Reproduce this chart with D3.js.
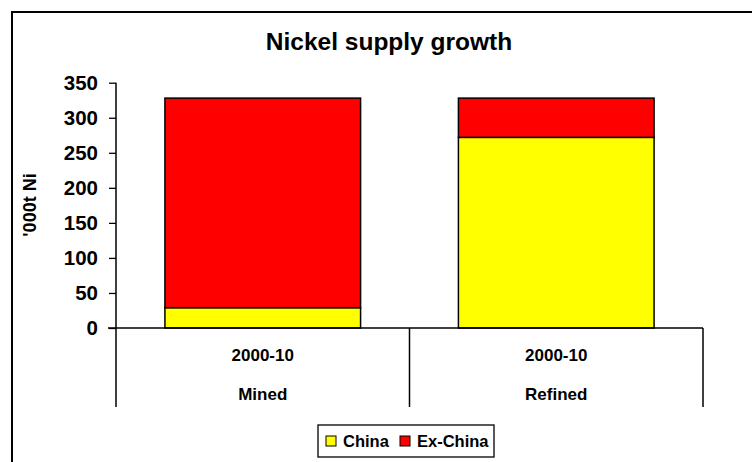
<!DOCTYPE html>
<html>
<head>
<meta charset="utf-8">
<script src="https://cdn.jsdelivr.net/npm/d3@7"></script>
<style>
  html, body { margin: 0; padding: 0; background: #fff; }
  svg { display: block; font-family: "Liberation Sans", Arial, sans-serif; font-weight: bold; }
</style>
</head>
<body>
<svg id="chart" width="752" height="462"></svg>
<script>
// Nickel supply growth 2000-10, '000 tonnes Ni
const groups = ["Mined", "Refined"];
const periods = ["2000-10", "2000-10"];
const seriesNames = ["China", "Ex-China"];
const china = [29, 272];
const exChina = [299, 56];
const yTicks = [0, 50, 100, 150, 200, 250, 300, 350];
const colors = ["#ffff00", "#ff0000"];

const svg = d3.select("#chart");
const W = 752, H = 462;
const plot = { left: 116, right: 703, top: 82.7, bottom: 328 };

// outer frame
svg.append("rect")
  .attr("x", 12).attr("y", 12).attr("width", W + 10).attr("height", H + 10)
  .attr("fill", "#fff").attr("stroke", "#000").attr("stroke-width", 2);

// title
svg.append("text")
  .attr("x", 389).attr("y", 50).attr("text-anchor", "middle")
  .attr("font-size", 24.5).text("Nickel supply growth");

const x = d3.scaleBand().domain(groups).range([plot.left, plot.right]).paddingInner(1/3).paddingOuter(1/6);
const y = d3.scaleLinear().domain([0, 350]).range([plot.bottom, plot.top]);

const rows = groups.map((g, i) => ({ group: g, China: china[i], "Ex-China": exChina[i] }));
const stacked = d3.stack().keys(seriesNames)(rows);

// stacked bars
const layer = svg.append("g").selectAll("g").data(stacked).join("g")
  .attr("fill", (d, i) => colors[i]);
layer.selectAll("rect").data(d => d).join("rect")
  .attr("x", d => x(d.data.group))
  .attr("y", d => y(d[1]))
  .attr("width", x.bandwidth())
  .attr("height", d => y(d[0]) - y(d[1]))
  .attr("stroke", "#000").attr("stroke-width", 1.5);

// value axis
const yAxis = svg.append("g").attr("transform", `translate(${plot.left},0)`)
  .call(d3.axisLeft(y).tickValues(yTicks).tickSize(7).tickPadding(11).tickFormat(d3.format("d")));
yAxis.select(".domain").remove();
yAxis.selectAll(".tick line").attr("stroke", "#000").attr("stroke-width", 1.3);
yAxis.selectAll(".tick text").attr("font-size", 20.5).attr("font-family", "Liberation Sans, Arial, sans-serif")
  .attr("font-weight", "bold").attr("fill", "#000");
// vertical axis line, continuing down through the category label area
svg.append("line")
  .attr("x1", plot.left).attr("x2", plot.left).attr("y1", y(350)).attr("y2", 407)
  .attr("stroke", "#000").attr("stroke-width", 1.5);

// category axis baseline
svg.append("line")
  .attr("x1", plot.left - 8).attr("x2", plot.right).attr("y1", y(0)).attr("y2", y(0))
  .attr("stroke", "#000").attr("stroke-width", 1.5);

// group dividers below the baseline
const bounds = groups.map((g, i) => plot.left + i * (plot.right - plot.left) / groups.length).concat([plot.right]);
svg.append("g").selectAll("line").data(bounds.slice(1)).join("line")
  .attr("x1", d => d).attr("x2", d => d).attr("y1", y(0)).attr("y2", 407)
  .attr("stroke", "#000").attr("stroke-width", 1.5);

// category labels: period and group
const labels = svg.append("g").attr("text-anchor", "middle").attr("font-size", 17);
labels.selectAll("text.period").data(groups).join("text").attr("class", "period")
  .attr("x", d => x(d) + x.bandwidth() / 2).attr("y", 361)
  .text((d, i) => periods[i]);
labels.selectAll("text.group").data(groups).join("text").attr("class", "group")
  .attr("x", d => x(d) + x.bandwidth() / 2).attr("y", 400)
  .text(d => d);

// value axis title
svg.append("text")
  .attr("transform", "translate(36,205) rotate(-90)")
  .attr("text-anchor", "middle").attr("font-size", 18)
  .text("'000t Ni");

// legend
const legend = svg.append("g");
legend.append("rect").attr("x", 318).attr("y", 425).attr("width", 176).attr("height", 32)
  .attr("fill", "#fff").attr("stroke", "#000").attr("stroke-width", 1.3);
const items = [{ name: seriesNames[0], x: 326, c: colors[0] }, { name: seriesNames[1], x: 400, c: colors[1] }];
items.forEach(it => {
  legend.append("rect").attr("x", it.x).attr("y", 436).attr("width", 10).attr("height", 10)
    .attr("fill", it.c).attr("stroke", "#000").attr("stroke-width", 1);
  legend.append("text").attr("x", it.x + 17).attr("y", 447).attr("font-size", 16.5).text(it.name);
});
</script>
</body>
</html>
